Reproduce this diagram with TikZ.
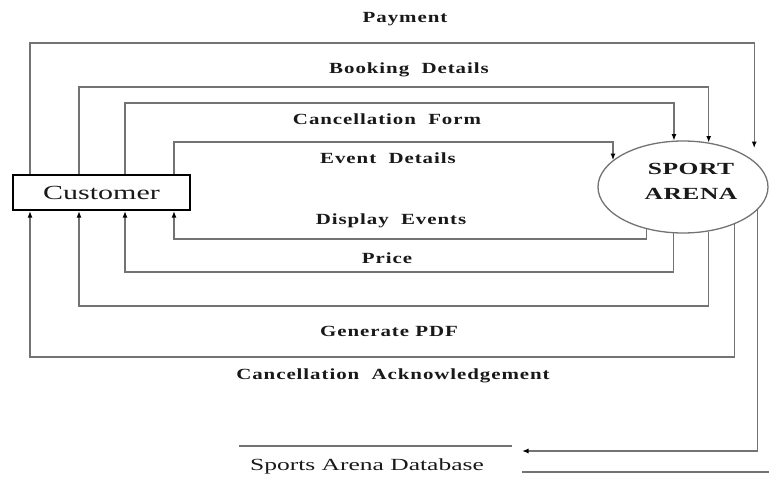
\documentclass[tikz,border=0pt]{standalone}
\usepackage{fontspec}
\setmainfont{Liberation Serif}
\newfontfamily\labfont[FakeStretch=1.35,LetterSpace=6]{Liberation Serif}
\newfontfamily\widefont[FakeStretch=1.5]{Liberation Serif}
\newfontfamily\arenafont[FakeStretch=1.5,LetterSpace=3]{Liberation Serif}
\usetikzlibrary{arrows.meta,shapes.geometric}
\definecolor{linegray}{RGB}{115,115,115}
\definecolor{txt}{RGB}{25,25,25}
\tikzset{
 flow/.style={draw=linegray, line width=1.3pt},
 arr/.style={flow, -{Latex[length=6.5pt,width=5pt,color=black]}},
 lab/.style={font=\labfont\bfseries\fontsize{15.5}{18}\selectfont, text=txt, inner sep=0pt},
 entity/.style={draw=black, line width=2.2pt, minimum width=177pt, minimum height=35pt, inner sep=0pt, font=\widefont\fontsize{20}{24}\selectfont, text=txt},
 proc/.style={ellipse, draw=linegray, line width=1.3pt, minimum width=170pt, minimum height=92pt, inner sep=0pt},
 proctext/.style={align=center, inner sep=0pt, font=\arenafont\bfseries\fontsize{17}{25}\selectfont, text=txt},
 store/.style={font=\widefont\fontsize{17}{20}\selectfont, text=txt, inner sep=0pt}
}
\begin{document}
\begin{tikzpicture}[x=1pt,y=-1pt]
\useasboundingbox (0,0) rectangle (769,479);
\node[entity] (cust) at (101.5,192.5) {Customer};
\node[proc] (sa) at (683,187) {};
\node[proctext] (saText) at ([xshift=8pt,yshift=6pt]sa.center) {SPORT\\ARENA};
\node[store] (db) at (367,466) {Sports Arena Database};
\draw[flow] (239,446) -- (512,446);
\draw[flow] (522,472) -- (769,472);
% ports
\coordinate (t1) at ([xshift=-71.5pt]cust.north);
\coordinate (t2) at ([xshift=-22.5pt]cust.north);
\coordinate (t3) at ([xshift=23.5pt]cust.north);
\coordinate (t4) at ([xshift=72.5pt]cust.north);
\coordinate (b1) at ([xshift=-71.5pt]cust.south);
\coordinate (b2) at ([xshift=-22.5pt]cust.south);
\coordinate (b3) at ([xshift=23.5pt]cust.south);
\coordinate (b4) at ([xshift=72.5pt]cust.south);
\coordinate (yPay) at (0,43);
\coordinate (yBook) at (0,87);
\coordinate (yCanc) at (0,103);
\coordinate (yEvt) at (0,142);
\coordinate (yDisp) at (0,239);
\coordinate (yPrice) at (0,272);
\coordinate (yGen) at (0,306);
\coordinate (yAck) at (0,357);
\coordinate (dbin) at (522,451);
% top flows
\draw[arr, shorten >=13pt] (t1) |- (yPay -| sa.20) -- (sa.20);
\draw[arr] (t2) |- (yBook -| sa.60) -- (sa.60);
\draw[arr] (t3) |- (yCanc -| sa.101) -- (sa.101);
\draw[arr] (t4) |- (yEvt -| sa.159) -- (sa.159);
% bottom flows
\draw[arr] (sa.-131) |- (yDisp -| b4) -- (b4);
\draw[arr] (sa.-102) |- (yPrice -| b3) -- (b3);
\draw[arr] (sa.-60) |- (yGen -| b2) -- (b2);
\draw[arr] (sa.-36) |- (yAck -| b1) -- (b1);
\draw[arr] (sa.-17) |- (dbin);
% labels
\node[lab] (lPay) at (405,19) {Payment};
\node[lab] (lBook) at (409,70) {Booking\ \ Details};
\node[lab] (lCanc) at (387,119) {Cancellation\ \ Form};
\node[lab] (lEvt) at (388,158) {Event\ \ Details};
\node[lab] (lDisp) at (391,221) {Display\ \ Events};
\node[lab] (lPrice) at (387,258) {Price};
\node[lab] (lGen) at (389,331) {Generate\ PDF};
\node[lab] (lAck) at (393,376) {Cancellation\ \ Acknowledgement};
\end{tikzpicture}
\end{document}
